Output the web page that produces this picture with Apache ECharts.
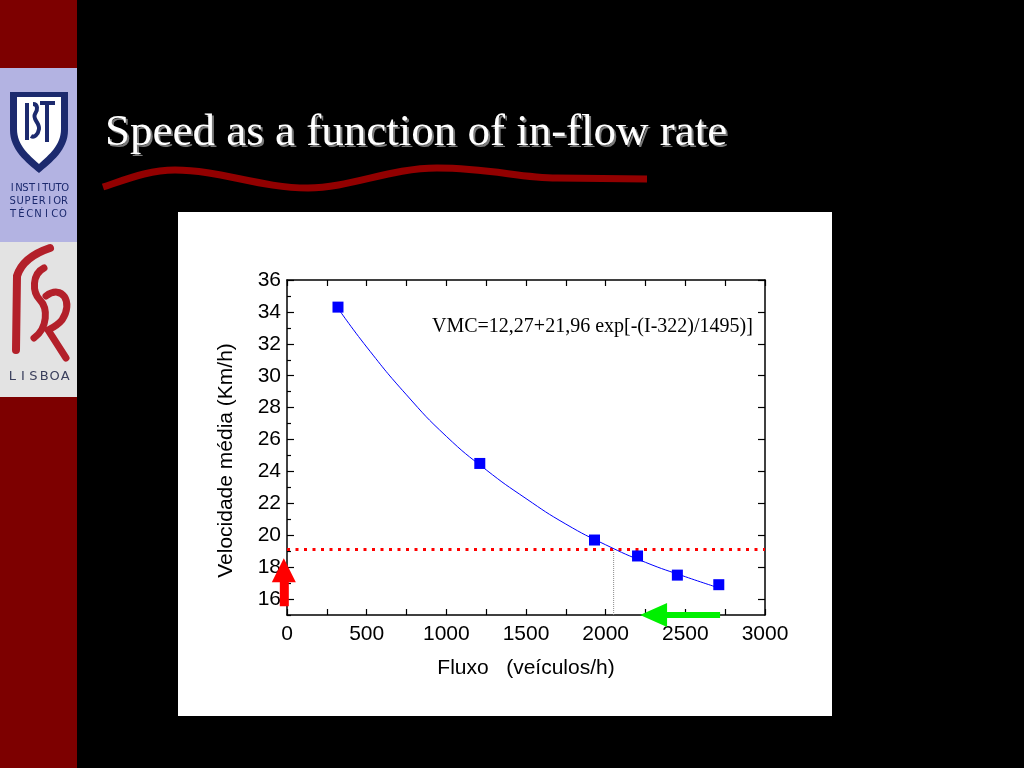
<!DOCTYPE html>
<html>
<head>
<meta charset="utf-8">
<script src="https://cdn.jsdelivr.net/npm/echarts@6/dist/echarts.min.js"></script>
<style>html,body{margin:0;padding:0;background:#000;}#c{width:1024px;height:768px;}</style>
</head>
<body>
<div id="c"></div>
<script>
// ---- data ----
const titleText = 'Speed as a function of in-flow rate';
const formulaText = 'VMC=12,27+21,96 exp[-(I-322)/1495)]';
const xTicks = [0, 500, 1000, 1500, 2000, 2500, 3000];
const yTicks = [16, 18, 20, 22, 24, 26, 28, 30, 32, 34, 36];
const yMinorTicks = [15, 17, 19, 21, 23, 25, 27, 29, 31, 33, 35];
const pointFlux = [320, 1210, 1930, 2200, 2450, 2710];
const pointSpeed = [34.3, 24.5, 19.7, 18.7, 17.5, 16.9];
const curveFlux = [322, 500, 750, 1000, 1250, 1500, 1750, 2000, 2250, 2500, 2710];
const curveSpeed = [34.2, 31.8, 28.8, 26.2, 24.1, 22.3, 20.7, 19.4, 18.3, 17.4, 16.7];
const thresholdSpeed = 19.1;
const thresholdFlux = 2050;
const upArrowAt = [-20, 17.05];
const leftArrowAt = [2467, 15.0];

const chart = echarts.init(document.getElementById('c'));
const sansFont = '"Liberation Sans", Arial, Helvetica, sans-serif';
const serifFont = '"Liberation Serif", "Times New Roman", serif';
const labelStyle = {color: '#000', fontSize: 21, fontFamily: sansFont};

// spaced logo lettering (one centred text element per character)
function spacedText(str, x0, step, y, font, color) {
  return str.split('').map((ch, i) => ({
    type: 'text', x: x0 + i * step + step / 2, y: y, z: 5,
    style: {text: ch, fill: color, font: font, align: 'center', verticalAlign: 'middle'}
  }));
}
const logoFont = '10px "DejaVu Sans", sans-serif';
const logoText = [].concat(
  spacedText('INSTITUTO', 9, 6.6, 188, logoFont, '#1c2a6e'),
  spacedText('SUPERIOR', 9, 7.4, 201, logoFont, '#1c2a6e'),
  spacedText('TÉCNICO', 9, 8.3, 214, logoFont, '#1c2a6e'),
  spacedText('LISBOA', 7, 10.6, 377, '13px "DejaVu Sans", sans-serif', '#3a3f5c')
);

const option = {
  backgroundColor: '#000',
  animation: false,
  graphic: [
    {type: 'rect', left: 0, top: 0, shape: {width: 77, height: 768}, style: {fill: '#7d0000'}, z: -10},
    {type: 'rect', left: 0, top: 68, shape: {width: 77, height: 174}, style: {fill: '#b3b3e2'}, z: -9},
    {type: 'rect', left: 0, top: 242, shape: {width: 77, height: 155}, style: {fill: '#e3e3e3'}, z: -9},
    {type: 'text', left: 107, top: 113, style: {text: titleText, fill: '#7a7a7a', font: '45px ' + serifFont}, z: 4},
    {type: 'text', left: 105, top: 111, style: {text: titleText, fill: '#ffffff', font: '45px ' + serifFont}, z: 5},
    {type: 'rect', left: 178, top: 212, shape: {width: 654, height: 504}, style: {fill: '#ffffff'}, z: -5},
    {type: 'text', left: 432, top: 317, style: {text: formulaText, fill: '#000', font: '20px ' + serifFont}, z: 5}
  ].concat(logoText),
  grid: {left: 287, top: 280, width: 478, height: 335, containLabel: false},
  xAxis: [
    {type: 'value', position: 'bottom', min: 0, max: 3000, interval: 500,
     axisLine: {show: true, onZero: false, lineStyle: {color: '#000', width: 1.5}},
     axisTick: {show: true, inside: true, length: 6, lineStyle: {color: '#000', width: 1.2}},
     minorTick: {show: true, splitNumber: 2, length: 6, lineStyle: {color: '#000', width: 1.2}},
     axisLabel: Object.assign({margin: 9, formatter: v => String(v)}, labelStyle),
     splitLine: {show: false},
     name: 'Fluxo   (veículos/h)', nameLocation: 'middle', nameGap: 43, nameTextStyle: labelStyle},
    {type: 'value', position: 'top', min: 0, max: 3000, interval: 250,
     axisLine: {show: true, onZero: false, lineStyle: {color: '#000', width: 1.5}},
     axisTick: {show: true, inside: true, length: 6, lineStyle: {color: '#000', width: 1.2}},
     axisLabel: {show: false}, splitLine: {show: false}}
  ],
  yAxis: [
    {type: 'value', position: 'left', min: 15, max: 36, interval: 1,
     axisLine: {show: true, onZero: false, lineStyle: {color: '#000', width: 1.5}},
     axisTick: {show: true, inside: true, length: 7, customValues: yTicks, lineStyle: {color: '#000', width: 1.2}},
     axisLabel: Object.assign({margin: 6, customValues: yTicks}, labelStyle),
     splitLine: {show: false},
     name: 'Velocidade média (Km/h)', nameLocation: 'middle', nameRotate: 90, nameGap: 50,
     nameTextStyle: Object.assign({padding: [0, 26, 0, 0]}, labelStyle)},
    {type: 'value', position: 'left', min: 15, max: 36, interval: 1,
     axisLine: {show: false},
     axisTick: {show: true, inside: true, length: 4, customValues: yMinorTicks, lineStyle: {color: '#000', width: 1.2}},
     axisLabel: {show: false}, splitLine: {show: false}},
    {type: 'value', position: 'right', min: 15, max: 36, interval: 1,
     axisLine: {show: true, onZero: false, lineStyle: {color: '#000', width: 1.5}},
     axisTick: {show: true, inside: true, length: 7, customValues: yTicks, lineStyle: {color: '#000', width: 1.2}},
     axisLabel: {show: false}, splitLine: {show: false}}
  ],
  series: [
    {type: 'line', name: 'fit', smooth: true, symbol: 'none', silent: true,
     lineStyle: {color: '#0000ff', width: 1},
     data: curveFlux.map((x, i) => [x, curveSpeed[i]]), z: 3},
    {type: 'scatter', name: 'data', symbol: 'rect', symbolSize: 11,
     itemStyle: {color: '#0000ff', opacity: 1},
     data: pointFlux.map((x, i) => [x, pointSpeed[i]]), z: 4},
    {type: 'line', name: 'limit', symbol: 'none', silent: true,
     lineStyle: {color: '#ff0000', width: 3, type: [3, 5.5]},
     data: [[xTicks[0], thresholdSpeed], [xTicks[xTicks.length - 1], thresholdSpeed]], z: 2},
    {type: 'line', name: 'drop', symbol: 'none', silent: true,
     lineStyle: {color: '#8a8a8a', width: 1, type: [1, 1]},
     data: [[thresholdFlux, 15], [thresholdFlux, thresholdSpeed]], z: 2},
    {type: 'scatter', name: 'upArrow', clip: false, silent: true,
     symbol: 'path://M12,0 L24,24 L17,24 L17,48 L8,48 L8,24 L0,24 Z', symbolSize: [24, 48],
     itemStyle: {color: '#ff0000', opacity: 1}, data: [upArrowAt], z: 10},
    {type: 'scatter', name: 'leftArrow', clip: false, silent: true,
     symbol: 'path://M0,12 L27,0 L27,9 L80,9 L80,15 L27,15 L27,24 Z', symbolSize: [80, 24],
     itemStyle: {color: '#00f000', opacity: 1}, data: [leftArrowAt], z: 10}
  ]
};
chart.setOption(option);

// decorative vector shapes (logos, underline) added directly to the renderer
const zr = chart.getZr();
function addPath(d, style) {
  const p = echarts.graphic.makePath(d, {style: style, z: 20, silent: true});
  zr.add(p);
}
addPath('M103,187 C130,178 150,170 175,170 C220,170 260,188 308,188 C350,188 390,168 437,168 C490,168 520,178 557,178 L647,179',
  {fill: null, stroke: '#920000', lineWidth: 7});
addPath('M10,92 L68,92 L68,130 C68,150 52,162 39,173 C26,162 10,150 10,130 Z', {fill: '#1c2a6e', stroke: null});
addPath('M17,97 L61,97 L61,129 C61,145 49,155 39,164 C29,155 17,145 17,129 Z', {fill: '#ffffff', stroke: null});
addPath('M27,103 L27,140 M33,104 C38,104 38,110 35,114 C32,119 40,123 39,129 C38,135 34,138 31,136 M40,103 L55,103 M47,103 L47,142',
  {fill: null, stroke: '#1c2a6e', lineWidth: 4});
addPath('M50,248 C38,252 22,260 17,276 L16,350', {fill: null, stroke: '#b3202a', lineWidth: 8, lineCap: 'round'});
addPath('M44,268 C32,274 32,292 40,300 C48,308 48,328 34,338', {fill: null, stroke: '#b3202a', lineWidth: 7, lineCap: 'round'});
addPath('M46,296 C62,284 74,302 62,320 C57,326 52,328 48,330 L66,358', {fill: null, stroke: '#b3202a', lineWidth: 7, lineCap: 'round'});
</script>
</body>
</html>
